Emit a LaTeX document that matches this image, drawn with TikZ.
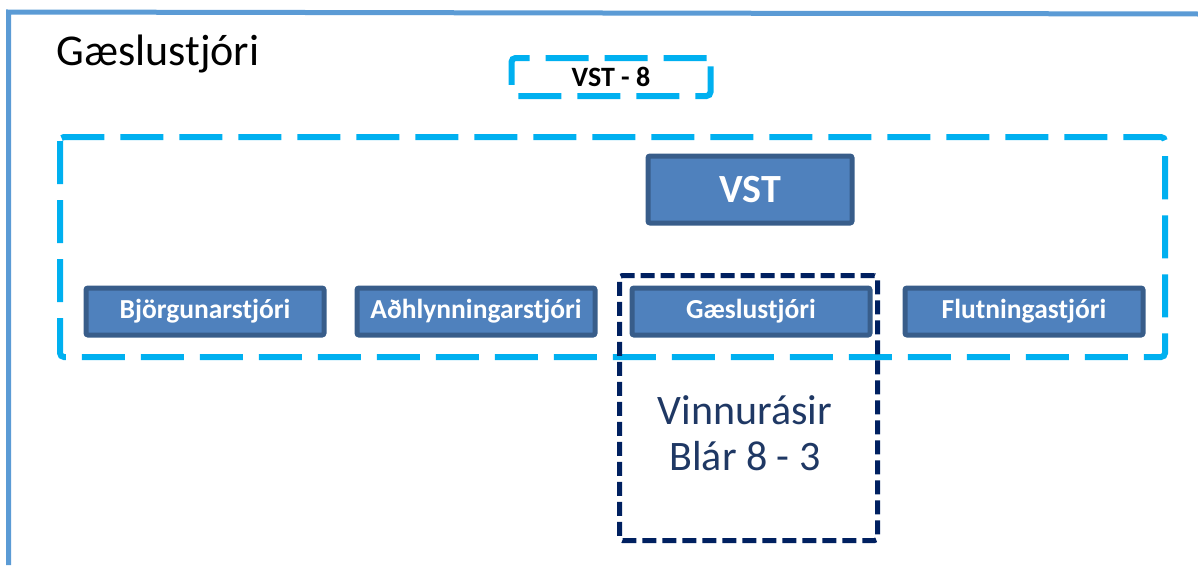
\documentclass[tikz,border=0pt]{standalone}
\usepackage{fontspec}
\setmainfont{Carlito}
\usetikzlibrary{positioning}
\definecolor{frameblue}{HTML}{5B9BD5}
\definecolor{dashblue}{HTML}{00B0F0}
\definecolor{boxfill}{HTML}{4F81BD}
\definecolor{boxline}{HTML}{385D8A}
\definecolor{navyline}{HTML}{002060}
\definecolor{navytext}{HTML}{1F3864}
\tikzstyle{role} = [rectangle, rounded corners=2pt, fill=boxfill, draw=boxline, line width=5pt, minimum width=238pt, minimum height=47pt, text=white, font=\fontsize{27.5}{30}\selectfont\bfseries]
\tikzstyle{group} = [draw=dashblue, line width=6pt, dash pattern=on 43pt off 16pt, rounded corners=4pt]

\begin{document}
\begin{tikzpicture}[x=1pt, y=-1pt, node distance=30pt]
    \useasboundingbox (0,0) rectangle (1198,565);
    \draw[frameblue, line width=5pt] (8.5,565) -- (8.5,12) -- (1198,14);
    \node(title)[anchor=base west, font=\fontsize{44}{48}\selectfont] at (53,65) {Gæslustjóri};
    \node(vst8)[group, minimum width=199pt, minimum height=38pt, font=\fontsize{28}{30}\selectfont\bfseries] at (611,77) {VST - 8};
    \draw[group] (60,137) rectangle (1165,357);
    \node(vinnu)[rectangle, draw=navyline, line width=5pt, dash pattern=on 14pt off 6pt, rounded corners=3pt, minimum width=258pt, minimum height=265pt] at (748.5,408) {};
    \node(vinnutext)[text=navytext, align=center, font=\fontsize{42}{46}\selectfont] at (745,433) {Vinnurásir\\Blár 8 - 3};
    \node(vst)[role, minimum width=204pt, minimum height=67pt, font=\fontsize{40}{44}\selectfont\bfseries] at (750,189.5) {VST};
    \node(bjorg)[role] at (205,311.5) {Björgunarstjóri};
    \node(adhl)[role, right=28pt of bjorg] {Aðhlynningarstjóri};
    \node(gaesl)[role, right=32pt of adhl] {Gæslustjóri};
    \node(flutn)[role, right=30pt of gaesl] {Flutningastjóri};
\end{tikzpicture}
\end{document}
